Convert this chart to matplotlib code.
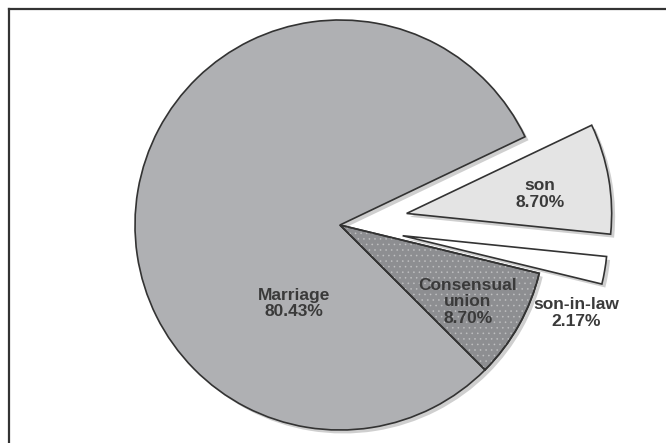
import matplotlib
matplotlib.use("Agg")
import matplotlib.pyplot as plt
import matplotlib.patheffects as pe
from matplotlib.patches import Wedge
from matplotlib.lines import Line2D

# ---- data ----
categories = ["Marriage", "Consensual\nunion", "son-in-law", "son"]
shares = [80.43, 8.70, 2.17, 8.70]
explode = [0.0, 0.0, 0.31, 0.33]
colors = ["#afb0b3", "#8d8e91", "#ffffff", "#e4e4e4"]

W, H, DPI = 666, 443, 100
R = 205.0          # pie radius in px
CX, CY = 340.0, 225.0  # centre in px from top-left

fig = plt.figure(figsize=(W / DPI, H / DPI), dpi=DPI)
ax = fig.add_axes([0, 0, 1, 1])

wedges, _ = ax.pie(
    shares, explode=explode, colors=colors, startangle=25.5,
    counterclock=True, radius=1.0,
    wedgeprops=dict(edgecolor="#333333", linewidth=1.2),
)
for w in wedges:
    w.set_path_effects([
        pe.SimplePatchShadow(offset=(2.5, -2.5), shadow_rgbFace="#777777", alpha=0.35),
        pe.Normal(),
    ])

# dotted texture on consensual union
cw = wedges[1]
plt.rcParams["hatch.linewidth"] = 0.5
dots = Wedge(cw.center, cw.r, cw.theta1, cw.theta2, facecolor="none",
             edgecolor="#e0e0e0", hatch="...", linewidth=0, alpha=0.45)
ax.add_patch(dots)
ax.add_patch(Wedge(cw.center, cw.r, cw.theta1, cw.theta2, facecolor="none",
                   edgecolor="#333333", linewidth=1.2))

# labels (layout positions in px)
label_px = [(294, 303.5), (468, 302), (576, 313), (540, 194)]
for name, val, (px, py) in zip(categories, shares, label_px):
    x = (px - CX) / R
    y = (CY - py) / R
    ax.text(x, y, f"{name}\n{val:.2f}%", ha="center", va="center",
            fontsize=12.5, fontweight="bold", color="#3a3a3a",
            family=["Liberation Sans", "DejaVu Sans"], linespacing=1.15)

ax.set_xlim(-CX / R, (W - CX) / R)
ax.set_ylim(-(H - CY) / R, CY / R)
ax.set_aspect("auto")
ax.axis("off")

# frame (cropped on right and bottom)
fig.add_artist(Line2D([9 / W, 9 / W], [0, 1 - 9 / H], transform=fig.transFigure,
                      color="#333333", linewidth=1.6))
fig.add_artist(Line2D([9 / W, 1], [1 - 9 / H, 1 - 9 / H], transform=fig.transFigure,
                      color="#333333", linewidth=1.6))

fig.savefig("out.png", dpi=DPI)
